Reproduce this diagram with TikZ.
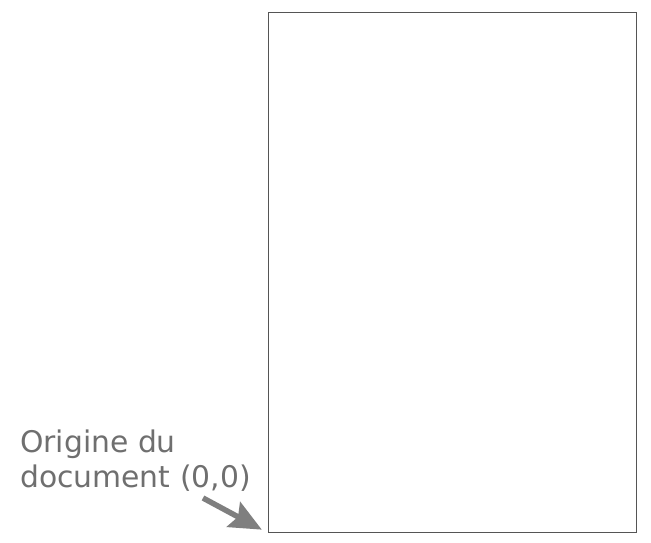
\documentclass[tikz,border=0pt]{standalone}
\usepackage{fontspec}
\setmainfont{DejaVu Sans}
\usetikzlibrary{arrows.meta}
\definecolor{txtgray}{HTML}{6F6F6F}
\definecolor{arrgray}{HTML}{7F7F7F}
\definecolor{framegray}{HTML}{555555}
\tikzset{
  pagebox/.style={draw=framegray, line width=0.9pt, minimum width=368pt, minimum height=520pt, inner sep=0pt, anchor=south west},
  labeltext/.style={text=txtgray, font=\fontsize{29.8}{35.5}\selectfont, align=left, inner sep=0pt, anchor=base west},
  pointer/.style={draw=arrgray, line width=5.5pt, -{Stealth[length=32pt, width=28pt, inset=5pt]}, shorten >=7pt}
}
\begin{document}
\begin{tikzpicture}[x=1pt,y=1pt]
\useasboundingbox (0,0) rectangle (651,543);
\node[pagebox] (page) at (268,10) {};
\node[labeltext] (label) at (20,55) {Origine du\\document (0,0)};
\coordinate (start) at (203,45);
\draw[pointer] (start) -- (page.south west);
\end{tikzpicture}
\end{document}
